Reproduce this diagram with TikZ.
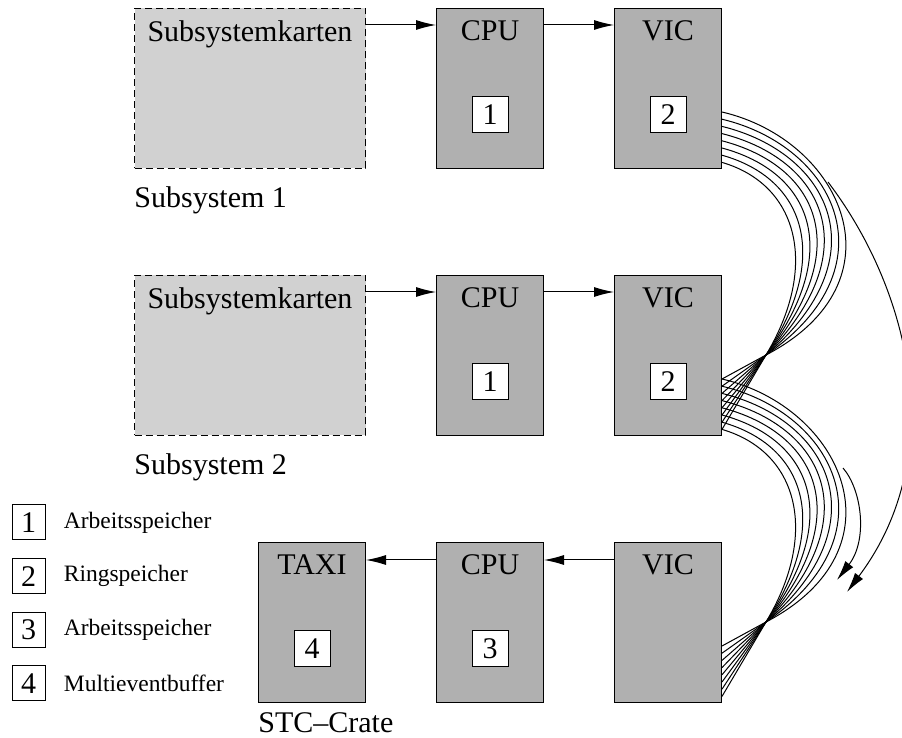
\documentclass[tikz,border=0pt]{standalone}
\usepackage{fontspec}
\setmainfont{Liberation Serif}
\usetikzlibrary{positioning,calc,arrows.meta}
\definecolor{cardfill}{gray}{0.82}
\definecolor{unitfill}{gray}{0.69}
\begin{document}
\begin{tikzpicture}[
  x=0.5pt, y=-0.5pt,
  font=\fontsize{15pt}{18pt}\selectfont,
  node distance=35pt,
  unit/.style={
    draw,
    fill=unitfill,
    line width=0.5pt,
    minimum width=53.5pt,
    minimum height=80pt,
    inner sep=0pt
  },
  cards/.style={unit, fill=cardfill, dash pattern=on 3.5pt off 2pt, minimum width=115.5pt},
  unittitle/.style={anchor=north, inner sep=0pt, yshift=-6pt},
  membox/.style={draw, fill=white, line width=0.5pt, minimum size=18pt, inner sep=0pt},
  legendbox/.style={draw, line width=0.5pt, minimum width=16.5pt, minimum height=17.5pt, inner sep=0pt},
  legendtext/.style={font=\fontsize{11.75pt}{14pt}\selectfont, inner sep=0pt},
  cratecap/.style={anchor=north west, inner sep=0pt},
  arrow/.style={-{Latex[length=10pt,width=5pt]}, line width=0.5pt},
  wire/.style={line width=0.5pt}
]
\useasboundingbox (0,0) rectangle (902,738);
\node[cards, anchor=north west, label={[unittitle]north:Subsystemkarten}] (sub1) at (134,8) {};
\node[unit, right=of sub1, label={[unittitle]north:CPU}] (cpu1) {};
\node[unit, right=of cpu1, label={[unittitle]north:VIC}] (vic1) {};
\node[membox] (cpu1m) at ([yshift=-53.5pt]cpu1.north) {1};
\node[membox] (vic1m) at ([yshift=-53.5pt]vic1.north) {2};
\node[cratecap] (sub1cap) at ([yshift=-8.5pt]sub1.south west) {Subsystem 1};

\node[cards, below=53pt of sub1, label={[unittitle]north:Subsystemkarten}] (sub2) {};
\node[unit, right=of sub2, label={[unittitle]north:CPU}] (cpu2) {};
\node[unit, right=of cpu2, label={[unittitle]north:VIC}] (vic2) {};
\node[membox] (cpu2m) at ([yshift=-53.5pt]cpu2.north) {1};
\node[membox] (vic2m) at ([yshift=-53.5pt]vic2.north) {2};
\node[cratecap] (sub2cap) at ([yshift=-8.5pt]sub2.south west) {Subsystem 2};

\node[unit, below=53pt of vic2, label={[unittitle]north:VIC}] (vic3) {};
\node[unit, left=of vic3, label={[unittitle]north:CPU}] (cpu3) {};
\node[unit, left=of cpu3, label={[unittitle]north:TAXI}] (taxi) {};
\node[membox] (cpu3m) at ([yshift=-53.5pt]cpu3.north) {3};
\node[membox] (taxim) at ([yshift=-53.5pt]taxi.north) {4};
\node[cratecap] (stccap) at ([yshift=-4.5pt]taxi.south west) {STC\textendash Crate};

\node[legendbox] (key1) at (28.5,522.5) {1};
\node[legendbox, below=8.8pt of key1] (key2) {2};
\node[legendbox, below=8.8pt of key2] (key3) {3};
\node[legendbox, below=8.8pt of key3] (key4) {4};
\node[legendtext, right=9pt of key1] (key1txt) {Arbeitsspeicher};
\node[legendtext, right=9pt of key2] (key2txt) {Ringspeicher};
\node[legendtext, right=9pt of key3] (key3txt) {Arbeitsspeicher};
\node[legendtext, right=9pt of key4] (key4txt) {Multieventbuffer};

\draw[arrow] ([yshift=-8.5pt]sub1.north east) -- ([yshift=-8.5pt]cpu1.north west);
\draw[arrow] ([yshift=-8.5pt]cpu1.north east) -- ([yshift=-8.5pt]vic1.north west);
\draw[arrow] ([yshift=-8.5pt]sub2.north east) -- ([yshift=-8.5pt]cpu2.north west);
\draw[arrow] ([yshift=-8.5pt]cpu2.north east) -- ([yshift=-8.5pt]vic2.north west);
\draw[arrow] ([yshift=-9pt]vic3.north west) -- ([yshift=-9pt]cpu3.north east);
\draw[arrow] ([yshift=-9pt]cpu3.north west) -- ([yshift=-9pt]taxi.north east);

\foreach \up/\dn in {vic1/vic2,vic2/vic3}
  \foreach \i in {0,...,7}{
    \pgfmathsetmacro{\fs}{3.2-2*\i/7}
    \pgfmathsetmacro{\fd}{23+7.2*\i}
    \draw[wire] ($(\up.north east)+(0,104+7.2*\i)$)
      .. controls ($(\up.north east)+(120-6.14*\i,132+6.43*\i)$)
      and ($(\up.north east)+(44+44*\fs,347-\fs*\fd)$)
      .. ($(\up.north east)+(44,347)$) -- ($(\dn.north east)+(0,104+7.2*\i)$);
  }

\coordinate (longstart) at (828,182);
\coordinate (longend) at (847,592);
\coordinate (shortstart) at (843,468);
\coordinate (shortend) at (837,580);
\draw[arrow] (longstart) .. controls (910,290) and (950,455) .. (longend);
\draw[arrow] (shortstart) .. controls (862,490) and (868,540) .. (shortend);
\end{tikzpicture}
\end{document}
